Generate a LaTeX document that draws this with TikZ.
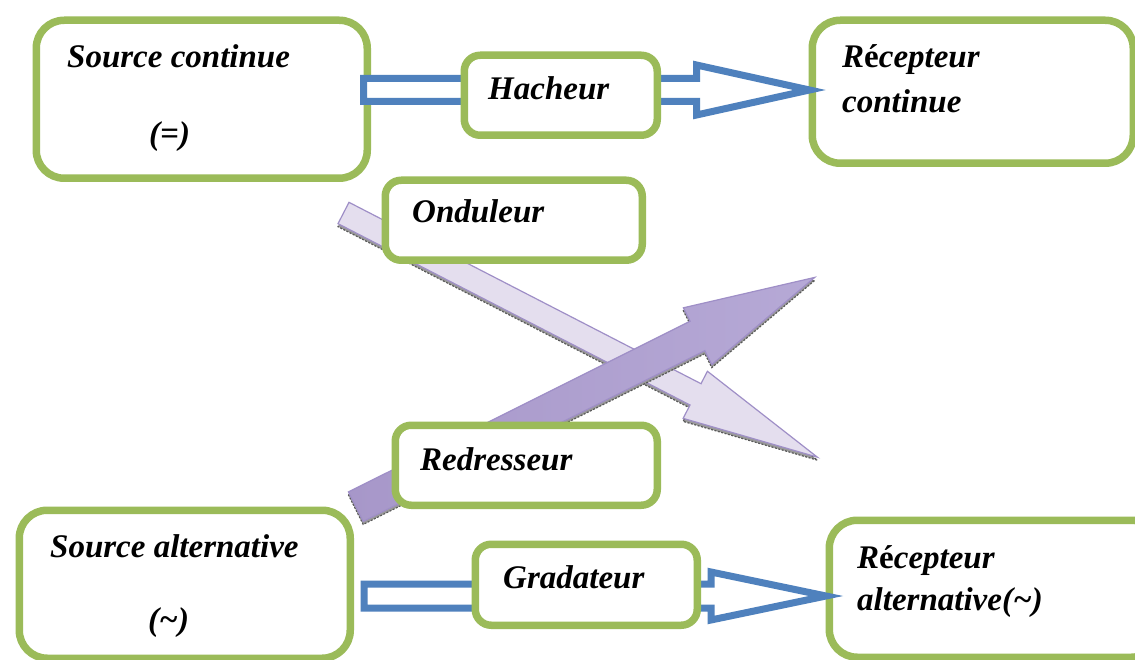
\documentclass[tikz,border=0pt]{standalone}
\usepackage{fontspec}
\setmainfont{Liberation Serif}
\definecolor{boxgreen}{HTML}{9BBB59}
\definecolor{arrowblue}{HTML}{4F81BD}
\definecolor{lavlight}{HTML}{E4DEEE}
\definecolor{lavedge}{HTML}{9F8FC7}
\definecolor{lavdark}{HTML}{A797C9}
\definecolor{lavmid}{HTML}{D4CCE7}
\definecolor{lavtip}{HTML}{B6A9D6}
\begin{document}
\begin{tikzpicture}[x=1pt,y=-1pt,
  box/.style={draw=boxgreen, line width=7.5pt, fill=white, rectangle, anchor=north west, inner sep=0pt},
  bigbox/.style={box, rounded corners=28pt},
  smallbox/.style={box, rounded corners=16pt},
  lbl/.style={anchor=base west, inner sep=0pt, text=black, font=\fontsize{33}{40}\selectfont\bfseries\itshape},
  hollow/.style={draw=arrowblue, line width=7pt, fill=white, line join=miter},
  shadowarrow/.style={fill=black!40, draw=black!65, line width=1.2pt, dash pattern=on 2pt off 1.5pt},
  lightarrow/.style={fill=lavlight, draw=lavedge, line width=1.2pt},
  darkarrow/.style={left color=lavdark, middle color=lavmid, right color=lavtip, draw=lavedge, line width=1.2pt}]
\useasboundingbox (0,0) rectangle (1135,660);
\fill[white] (0,0) rectangle (1135,660);

% tails of the purple arrows
\coordinate (ondtail) at (343.5,213);
\coordinate (ondtailsh) at (343.5,216);
\coordinate (redtail) at (355.8,506.7);
\coordinate (redtailsh) at (355.8,509.7);

% Onduleur arrow (light)
\begin{scope}[shift={(ondtailsh)}, rotate=-27.26]
  \path[shadowarrow] (0,-12) -- (396,-12) -- (396,-26) -- (533,0) -- (396,27) -- (396,12) -- (0,12) -- cycle;
\end{scope}
\begin{scope}[shift={(ondtail)}, rotate=-27.26]
  \path[lightarrow] (0,-12) -- (396,-12) -- (396,-26) -- (533,0) -- (396,27) -- (396,12) -- (0,12) -- cycle;
\end{scope}

% Redresseur arrow (dark)
\begin{scope}[shift={(redtailsh)}, rotate=26.55]
  \path[shadowarrow] (0,-16.5) -- (382,-16.5) -- (382,-31.5) -- (513,0) -- (382,32) -- (382,16.5) -- (0,16.5) -- cycle;
\end{scope}
\begin{scope}[shift={(redtail)}, rotate=26.55]
  \path[darkarrow] (0,-16.5) -- (382,-16.5) -- (382,-31.5) -- (513,0) -- (382,32) -- (382,16.5) -- (0,16.5) -- cycle;
\end{scope}

% boxes
\node[bigbox, minimum width=331pt, minimum height=158pt] (sc) at (32.5,16.5) {};
\node[bigbox, minimum width=321pt, minimum height=143pt] (rc) at (808.5,16.5) {};
\node[bigbox, minimum width=331pt, minimum height=148pt] (sa) at (15.5,506.5) {};
\node[bigbox, minimum width=330pt, minimum height=137pt] (ra) at (825.5,516.5) {};
\node[smallbox, minimum width=257pt, minimum height=80pt] (ond) at (381.5,176.5) {};
\node[smallbox, minimum width=262pt, minimum height=80pt] (red) at (391.5,421.5) {};

% hollow blue arrows
\coordinate (hachtail) at (363.5,90);
\coordinate (gradtail) at (364,596);
\begin{scope}[shift={(hachtail)}]
  \path[hollow] (0,-11.5) -- (333,-11.5) -- (333,-25) -- (446,0) -- (333,25) -- (333,11.5) -- (0,11.5) -- cycle;
\end{scope}
\begin{scope}[shift={(gradtail)}]
  \path[hollow] (0,-12) -- (347,-12) -- (347,-24) -- (462,0) -- (347,24) -- (347,12) -- (0,12) -- cycle;
\end{scope}

\node[smallbox, minimum width=193pt, minimum height=80pt] (hach) at (460.5,51.5) {};
\node[smallbox, minimum width=222pt, minimum height=81pt] (grad) at (471.5,540.5) {};

% texts
\node[lbl] (tsc1) at (67,68) {Source continue};
\node[lbl] (tsc2) at (149,145) {(=)};
\node[lbl] (thach) at (488,100) {Hacheur};
\node[lbl] (trc1) at (842,68) {R\textup{é}cepteur};
\node[lbl] (trc2) at (842,113) {continue};
\node[lbl] (tond) at (412,223) {Onduleur};
\node[lbl] (tred) at (420,470) {Redresseur};
\node[lbl] (tsa1) at (50,557) {Source alternative};
\node[lbl] (tsa2) at (148,630) {(\textasciitilde)};
\node[lbl] (tgrad) at (503,588) {Gradateur};
\node[lbl] (tra1) at (857,568) {R\textup{é}cepteur};
\node[lbl] (tra2) at (857,610) {alternative(\textasciitilde)};
\end{tikzpicture}
\end{document}
